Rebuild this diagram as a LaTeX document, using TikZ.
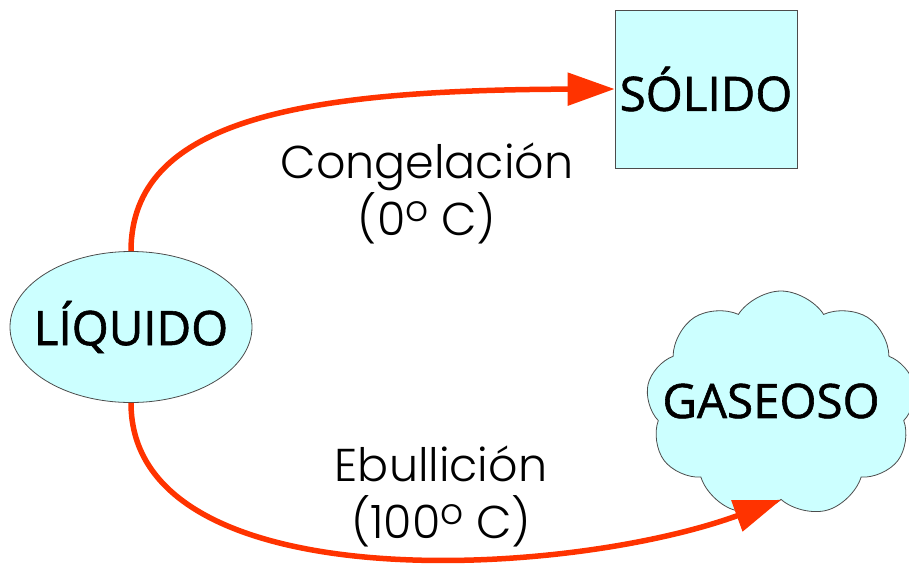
\documentclass[tikz,border=0pt]{standalone}
\usepackage{fontspec}
\setmainfont{Open Sans}[BoldFont={Open Sans},BoldFeatures={FakeBold=1.2}]
\newfontfamily\lblfont{Poppins}[UprightFont={* Light}]
\usetikzlibrary{arrows.meta,shapes.geometric,shapes.symbols}
\definecolor{statefill}{HTML}{CCFFFF}
\definecolor{flowred}{HTML}{FF3300}
% round degree sign sitting at cap height
\newcommand{\degsym}{\raisebox{0.3em}{\fontsize{36}{36}\selectfont o}}
\tikzset{
  statetext/.style={font=\bfseries\fontsize{47.5}{52}\selectfont, text=black},
  statebox/.style={statetext, draw=black!70, line width=0.8pt, fill=statefill, inner sep=0pt},
  flow/.style={draw=flowred, line width=5.5pt,
    -{Triangle[length=47pt,width=32pt,fill=flowred]}},
  flowlabel/.style={font=\lblfont\fontsize{46}{57}\selectfont, align=center, text=black}
}
\begin{document}
\begin{tikzpicture}[x=1pt,y=-1pt]
  \useasboundingbox (0,0) rectangle (909,565);
  % the three states
  \node[statebox, ellipse, minimum width=242pt, minimum height=151pt] (liq) at (131,327) {\makebox[0pt]{LÍQUIDO}};
  \node[statebox, rectangle, minimum width=182pt, minimum height=158pt] (sol) at (706,89) {\makebox[0pt]{SÓLIDO}};
  \node[statebox, cloud, cloud puffs=9, cloud puff arc=115, aspect=1.2,
        minimum width=270pt, minimum height=226pt] (gas) at (781,404) {};
  \node[statetext] (gastext) at (771,401) {GASEOSO};
  % transitions
  \draw[flow] (liq.north) .. controls (131,120) and (300,90) .. (sol.west);
  \draw[flow] (liq.south) .. controls (131,600) and (560,580) .. (gas.south);
  % transition labels
  \node[flowlabel] (lblcong) at (427,193) {Congelación\\(0\degsym\ C)};
  \node[flowlabel] (lblebul) at (441,496) {Ebullición\\(100\degsym\ C)};
\end{tikzpicture}
\end{document}
